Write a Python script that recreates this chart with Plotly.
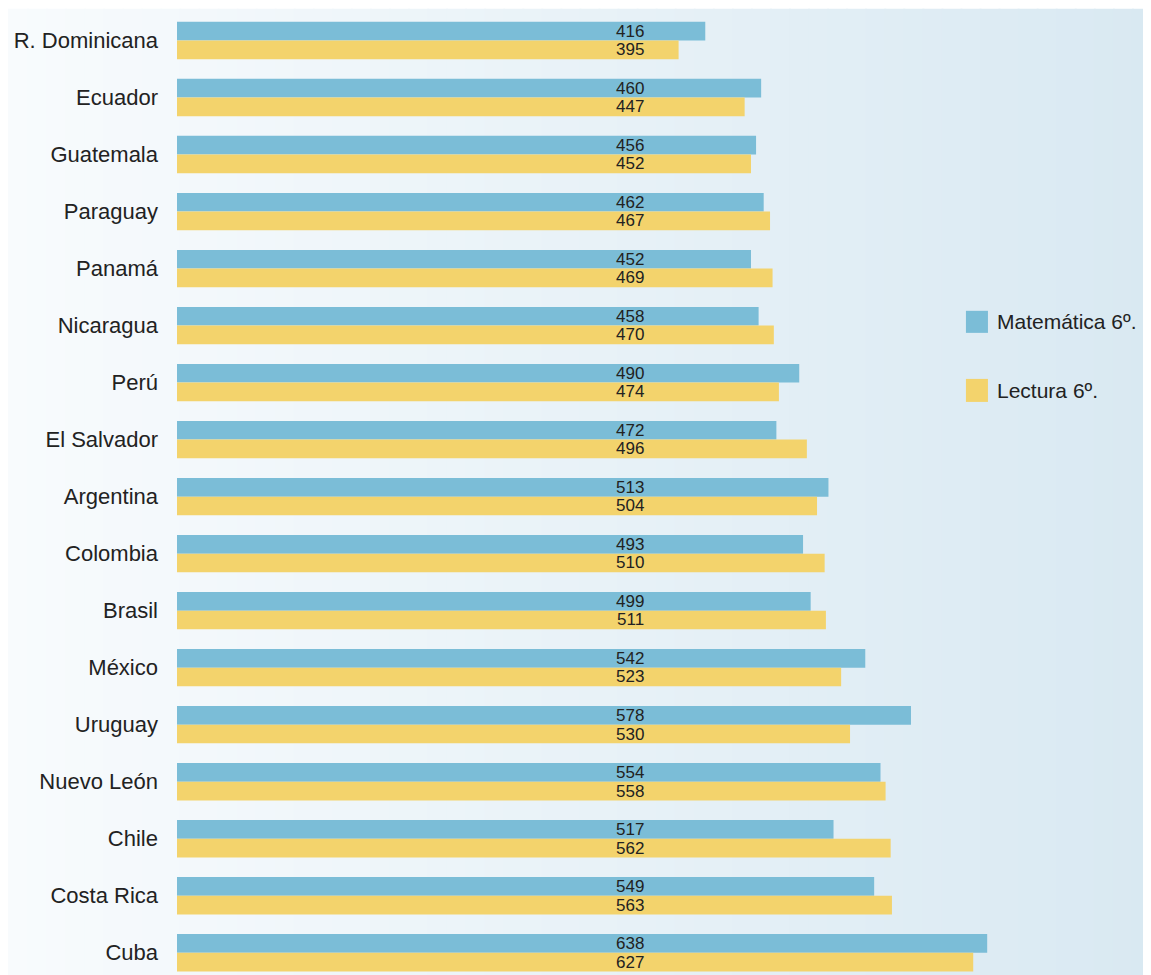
import plotly.graph_objects as go

paises = ['R. Dominicana', 'Ecuador', 'Guatemala', 'Paraguay', 'Panamá', 'Nicaragua',
          'Perú', 'El Salvador', 'Argentina', 'Colombia', 'Brasil', 'México',
          'Uruguay', 'Nuevo León', 'Chile', 'Costa Rica', 'Cuba']
matematica = [416, 460, 456, 462, 452, 458, 490, 472, 513, 493, 499, 542, 578, 554, 517, 549, 638]
lectura = [395, 447, 452, 467, 469, 470, 474, 496, 504, 510, 511, 523, 530, 558, 562, 563, 627]
series = ['Matemática 6º.', 'Lectura 6º.']

AZUL = '#7bbdd7'
AMARILLO = '#f3d36c'
FUENTE = 'Liberation Sans, Arial, sans-serif'

fig = go.Figure()
fig.add_trace(go.Bar(y=paises, x=matematica, orientation='h', name=series[0],
                     marker=dict(color=AZUL, line=dict(width=0)), showlegend=False))
fig.add_trace(go.Bar(y=paises, x=lectura, orientation='h', name=series[1],
                     marker=dict(color=AMARILLO, line=dict(width=0)), showlegend=False))

# etiquetas de valores, todas en la misma columna
COL_X = 357
for p, m, l in zip(paises, matematica, lectura):
    fig.add_annotation(x=COL_X, y=p, text=str(m), showarrow=False, yshift=9.3,
                       font=dict(family=FUENTE, size=17, color='#222'))
    fig.add_annotation(x=COL_X, y=p, text=str(l), showarrow=False, yshift=-9.3,
                       font=dict(family=FUENTE, size=17, color='#222'))

# fondo degradado (blanco -> celeste)
n = 60
c0 = (248, 251, 253)
c1 = (217, 233, 242)
x_ini = -169 / 974
for i in range(n):
    t = i / (n - 1)
    col = tuple(round(a + (b - a) * t) for a, b in zip(c0, c1))
    fig.add_shape(type='rect', xref='paper', yref='paper',
                  x0=x_ini + (1 - x_ini) * i / n, x1=x_ini + (1 - x_ini) * (i + 1) / n + 0.002,
                  y0=-0.01, y1=1.0033, fillcolor='rgb(%d,%d,%d)' % col,
                  line=dict(width=0), layer='below')

# leyenda
leyenda = [(series[0], AZUL, 0.6668, 0.6897, 0.6782),
           (series[1], AMARILLO, 0.5951, 0.6190, 0.6071)]
for txt, col, y0, y1, yc in leyenda:
    fig.add_shape(type='rect', xref='paper', yref='paper', x0=0.810, x1=0.8326,
                  y0=y0, y1=y1, fillcolor=col, line=dict(width=0))
    fig.add_annotation(xref='paper', yref='paper', x=0.8398, y=yc, text=txt,
                       showarrow=False, xanchor='left', yanchor='middle',
                       font=dict(family=FUENTE, size=21, color='#222'))

# la página deja 8 px de margen en el body, se descuenta aquí
fig.update_layout(
    width=1143, height=967,
    margin=dict(l=169, r=0, t=4, b=0, autoexpand=False),
    barmode='group', bargap=0.345, bargroupgap=0,
    paper_bgcolor='white', plot_bgcolor='rgba(0,0,0,0)',
    showlegend=False,
)
fig.update_xaxes(range=[0, 767], visible=False)
fig.update_yaxes(categoryorder='array', categoryarray=paises, range=[16.39, -0.5],
                 showgrid=False, zeroline=False, ticks='', ticklabelstandoff=18,
                 automargin=False,
                 tickfont=dict(family=FUENTE, size=22, color='#222'))

fig.write_html('out.html')
